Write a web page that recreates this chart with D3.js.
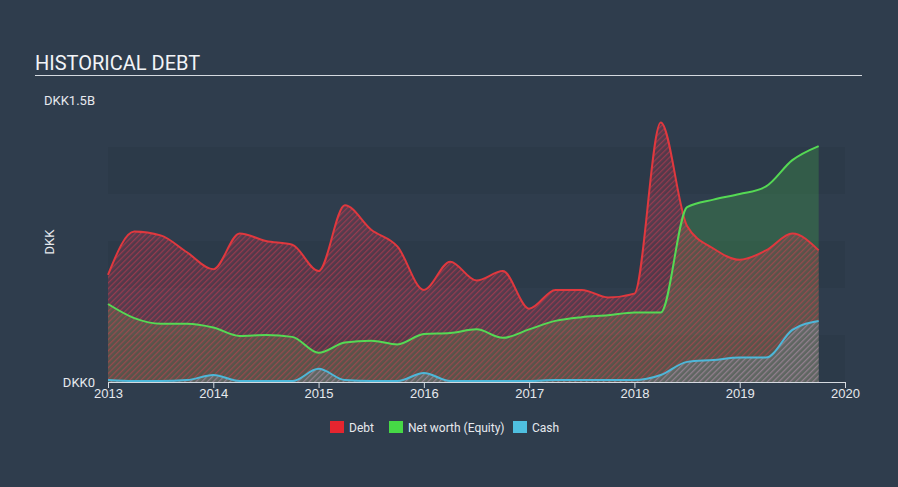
<!DOCTYPE html>
<html lang="en">
<head>
  <meta charset="UTF-8" />
  <title>Historical Debt</title>
  <script src="https://d3js.org/d3.v7.min.js"></script>
  <style>
    body {
      margin: 0;
      background: #2f3d4d;
      font-family: Roboto, "Open Sans", sans-serif;
      overflow: hidden;
    }
    svg { display: block; }
    .tick-label { font-size: 13px; fill: #e6e9ee; }
    .legend-label { font-size: 12px; fill: #e6e9ee; }
  </style>
</head>
<body>
  <svg width="898" height="487"></svg>
  <script>
    // quarterly dates (fractional years)
    const dates = d3.range(28).map(i => 2013 + i * 0.25);

    // values in DKK billions
    const debt = [0.57, 0.80, 0.78, 0.69, 0.60, 0.79, 0.75, 0.73, 0.59, 0.94, 0.81, 0.72,
                  0.49, 0.64, 0.54, 0.59, 0.39, 0.49, 0.49, 0.45, 0.47, 1.38, 0.83, 0.71,
                  0.65, 0.70, 0.79, 0.70];
    const equity = [0.415, 0.34, 0.31, 0.31, 0.29, 0.245, 0.25, 0.24, 0.155, 0.21, 0.22, 0.20,
                    0.255, 0.26, 0.28, 0.235, 0.28, 0.325, 0.345, 0.355, 0.37, 0.37, 0.93, 0.97,
                    1.00, 1.04, 1.18, 1.255];
    const cash = [0.01, 0.005, 0.005, 0.01, 0.037, 0.005, 0.005, 0.005, 0.07, 0.01, 0.005, 0.005,
                  0.048, 0.005, 0.005, 0.005, 0.005, 0.01, 0.01, 0.01, 0.01, 0.037, 0.107, 0.117,
                  0.13, 0.13, 0.277, 0.325];

    const yearTicks = [2013, 2014, 2015, 2016, 2017, 2018, 2019, 2020];
    const bandEdges = [0, 0.25, 0.5, 0.75, 1.0, 1.25];

    const svg = d3.select("svg");
    const x = d3.scaleLinear().domain([2013, 2020]).range([108, 845]);
    const y = d3.scaleLinear().domain([0, 1.5]).range([382, 100]);

    // title
    svg.append("text")
      .attr("x", 35).attr("y", 70)
      .attr("font-size", 20).attr("fill", "#f2f4f7")
      .text("HISTORICAL DEBT");
    svg.append("line")
      .attr("x1", 35).attr("x2", 862).attr("y1", 75.5).attr("y2", 75.5)
      .attr("stroke", "#d5dae0").attr("stroke-width", 1);

    // subtle bands
    svg.append("g").selectAll("rect")
      .data(bandEdges.filter((d, i) => i % 2 === 0))
      .join("rect")
      .attr("x", x(2013)).attr("width", x(2020) - x(2013))
      .attr("y", d => y(d + 0.25)).attr("height", d => y(d) - y(d + 0.25))
      .attr("fill", "#2b3848").attr("opacity", 0.6);

    // hatch patterns
    const defs = svg.append("defs");
    function hatch(id, color, op) {
      const p = defs.append("pattern")
        .attr("id", id).attr("patternUnits", "userSpaceOnUse")
        .attr("width", 4).attr("height", 4)
        .attr("patternTransform", "rotate(45)");
      p.append("rect").attr("width", 4).attr("height", 4)
        .attr("fill", color).attr("opacity", op * 0.45);
      p.append("line").attr("x1", 0).attr("y1", 0).attr("x2", 0).attr("y2", 4)
        .attr("stroke", color).attr("stroke-width", 2.4).attr("opacity", op);
    }
    hatch("hatch-debt", "#e8384f", 0.45);
    hatch("hatch-cash", "#7fc6dc", 0.35);

    const idx = d3.range(dates.length);
    const curve = d3.curveMonotoneX;
    const area = vals => d3.area().curve(curve)
      .x(i => x(dates[i])).y0(y(0)).y1(i => y(vals[i]));
    const line = vals => d3.line().curve(curve)
      .x(i => x(dates[i])).y(i => y(vals[i]));

    svg.append("path").datum(idx).attr("d", area(equity))
      .attr("fill", "#47c24a").attr("opacity", 0.25);
    svg.append("path").datum(idx).attr("d", area(debt))
      .attr("fill", "url(#hatch-debt)");
    svg.append("path").datum(idx).attr("d", area(cash))
      .attr("fill", "url(#hatch-cash)");

    svg.append("path").datum(idx).attr("d", line(debt))
      .attr("fill", "none").attr("stroke", "#e0383e").attr("stroke-width", 2);
    svg.append("path").datum(idx).attr("d", line(equity))
      .attr("fill", "none").attr("stroke", "#55d954").attr("stroke-width", 2);
    svg.append("path").datum(idx).attr("d", line(cash))
      .attr("fill", "none").attr("stroke", "#4db7d9").attr("stroke-width", 2);

    // x axis
    const axis = svg.append("g").attr("transform", `translate(0,${y(0)})`)
      .call(d3.axisBottom(x).tickValues(yearTicks).tickFormat(d3.format("d")).tickSize(6));
    axis.select(".domain").attr("stroke", "#d5dae0");
    axis.selectAll(".tick line").attr("stroke", "#d5dae0");
    axis.selectAll(".tick text").attr("class", "tick-label").attr("dy", "0.95em")
      .attr("y", 4).attr("font-family", null).attr("font-size", null);

    // y labels
    svg.append("text").attr("class", "tick-label").attr("font-size", 12)
      .attr("x", 44).attr("y", y(1.5) + 5).text("DKK1.5B");
    svg.append("text").attr("class", "tick-label").attr("font-size", 12)
      .attr("x", 95).attr("y", y(0) + 5).attr("text-anchor", "end").text("DKK0");
    svg.append("text").attr("class", "tick-label").attr("font-size", 12)
      .attr("transform", `translate(54,242) rotate(-90)`)
      .attr("text-anchor", "middle").text("DKK");

    // legend
    const legend = [
      { name: "Debt", color: "#e5252f", x: 330 },
      { name: "Net worth (Equity)", color: "#46d946", x: 389 },
      { name: "Cash", color: "#4fbfe0", x: 513 }
    ];
    const lg = svg.append("g").selectAll("g").data(legend).join("g")
      .attr("transform", d => `translate(${d.x},421)`);
    lg.append("rect").attr("width", 14).attr("height", 12).attr("fill", d => d.color);
    lg.append("text").attr("class", "legend-label")
      .attr("x", 19).attr("y", 10.5).text(d => d.name);
  </script>
</body>
</html>
